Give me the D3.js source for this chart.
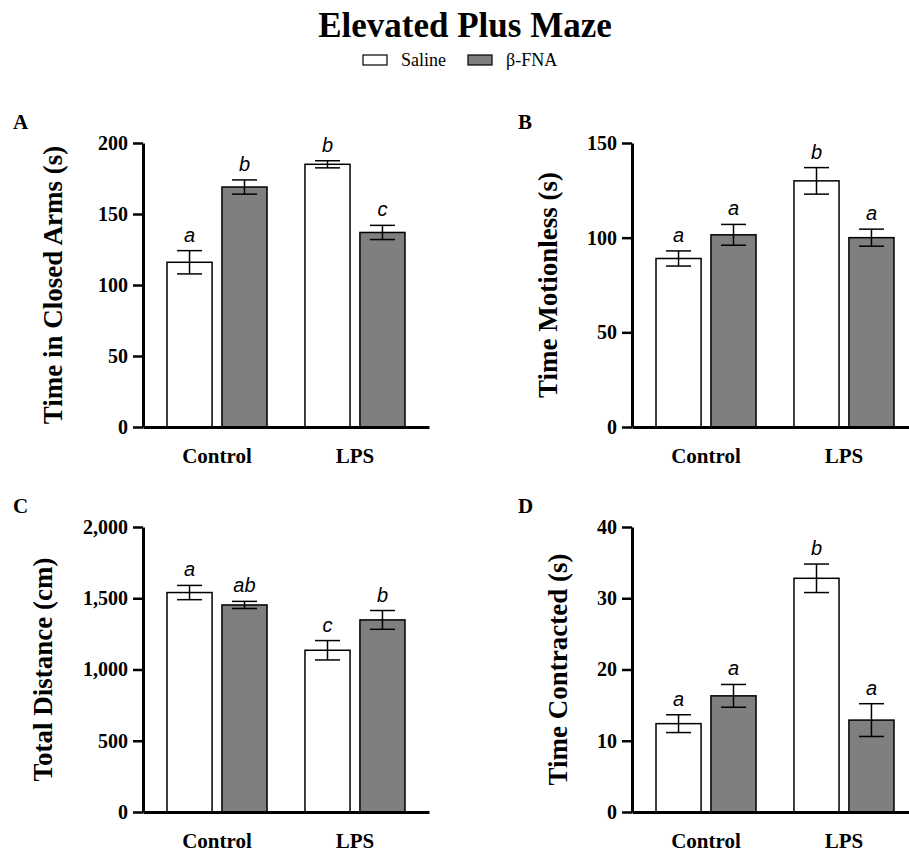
<!DOCTYPE html>
<html>
<head>
<meta charset="utf-8">
<script src="https://cdn.jsdelivr.net/npm/d3@7"></script>
<style>
  body { margin: 0; background: #fff; }
  svg { display: block; }
</style>
</head>
<body>
<script>
// groups on the x axis and the two treatments
const categories = ["Control", "LPS"];
const series = ["Saline", "β-FNA"];

// values, [Control, LPS] each as [Saline, β-FNA]
const closedArmsMean = [[116, 169], [185, 137]];
const closedArmsSem = [[8.2, 5], [2.5, 5]];
const closedArmsLetters = [["a", "b"], ["b", "c"]];

const motionlessMean = [[89, 101.5], [130, 100]];
const motionlessSem = [[4, 5.5], [7, 4.5]];
const motionlessLetters = [["a", "a"], ["b", "a"]];

const distanceMean = [[1540, 1453], [1135, 1348]];
const distanceSem = [[50, 25], [68, 66]];
const distanceLetters = [["a", "ab"], ["c", "b"]];

const contractedMean = [[12.4, 16.3], [32.8, 12.9]];
const contractedSem = [[1.25, 1.6], [2, 2.3]];
const contractedLetters = [["a", "a"], ["b", "a"]];

const panelIds = ["A", "B", "C", "D"];
const yLabels = ["Time in Closed Arms (s)", "Time Motionless (s)", "Total Distance (cm)", "Time Contracted (s)"];
const yTicks = [[0, 50, 100, 150, 200], [0, 50, 100, 150], [0, 500, 1000, 1500, 2000], [0, 10, 20, 30, 40]];

const panels = [
  { mean: closedArmsMean, sem: closedArmsSem, letters: closedArmsLetters },
  { mean: motionlessMean, sem: motionlessSem, letters: motionlessLetters },
  { mean: distanceMean, sem: distanceSem, letters: distanceLetters },
  { mean: contractedMean, sem: contractedSem, letters: contractedLetters },
];

const serif = "'Liberation Serif', 'Times New Roman', serif";
const sans = "'Liberation Sans', Arial, sans-serif";
const fills = ["#ffffff", "#7f7f7f"];

const svg = d3.select("body").append("svg")
  .attr("width", 909)
  .attr("height", 854);

// title + legend
svg.append("text")
  .attr("x", 465).attr("y", 37)
  .attr("text-anchor", "middle")
  .style("font-family", serif).style("font-weight", "bold").style("font-size", "35px")
  .text("Elevated Plus Maze");

const legendX = [363, 468];
series.forEach((s, i) => {
  svg.append("rect")
    .attr("x", legendX[i]).attr("y", 55)
    .attr("width", 24).attr("height", 10)
    .attr("fill", fills[i]).attr("stroke", "#000").attr("stroke-width", 1.2);
  svg.append("text")
    .attr("x", legendX[i] + 38).attr("y", 66)
    .style("font-family", serif).style("font-size", "18px")
    .text(s);
});

// label x positions (baseline of the rotated y title) per panel
const yTitleX = [62, 557, 52, 567];

panels.forEach((p, i) => {
  const col = i % 2, row = Math.floor(i / 2);
  const ax = col ? 632 : 143;
  const top = row ? 527 : 143;
  const bottom = row ? 812 : 427;
  const ticks = yTicks[i];

  const g = svg.append("g");

  const y = d3.scaleLinear().domain([0, d3.max(ticks)]).range([bottom, top]);
  const x0 = d3.scaleBand().domain(categories).range([ax, ax + 286])
    .paddingInner(0.275).paddingOuter(0.174);
  const x1 = d3.scaleBand().domain(series).range([0, x0.bandwidth()]).paddingInner(0.18);

  // panel letter
  g.append("text")
    .attr("x", col ? 518 : 13).attr("y", row ? 513 : 129)
    .style("font-family", serif).style("font-weight", "bold").style("font-size", "21px")
    .text(panelIds[i]);

  // y title
  g.append("text")
    .attr("transform", `translate(${yTitleX[i]},${(top + bottom) / 2}) rotate(-90)`)
    .attr("text-anchor", "middle")
    .style("font-family", serif).style("font-weight", "bold").style("font-size", "27px")
    .text(yLabels[i]);

  // bars
  const rows = [];
  categories.forEach((c, ci) => series.forEach((s, si) => {
    rows.push({ c, s, si, m: p.mean[ci][si], e: p.sem[ci][si], l: p.letters[ci][si] });
  }));

  const bar = g.selectAll("g.bar").data(rows).enter().append("g")
    .attr("class", "bar")
    .attr("transform", d => `translate(${x0(d.c) + x1(d.s)},0)`);

  bar.append("rect")
    .attr("x", 0)
    .attr("y", d => y(d.m))
    .attr("width", x1.bandwidth())
    .attr("height", d => y(0) - y(d.m))
    .attr("fill", d => fills[d.si])
    .attr("stroke", "#000")
    .attr("stroke-width", 1.5);

  const cx = x1.bandwidth() / 2;
  bar.append("line")
    .attr("x1", cx).attr("x2", cx)
    .attr("y1", d => y(d.m - d.e)).attr("y2", d => y(d.m + d.e))
    .attr("stroke", "#000").attr("stroke-width", 1.5);
  [-1, 1].forEach(k => {
    bar.append("line")
      .attr("x1", cx - 12.5).attr("x2", cx + 12.5)
      .attr("y1", d => y(d.m + k * d.e)).attr("y2", d => y(d.m + k * d.e))
      .attr("stroke", "#000").attr("stroke-width", 1.5);
  });

  bar.append("text")
    .attr("x", cx)
    .attr("y", d => y(d.m + d.e) - 9)
    .attr("text-anchor", "middle")
    .style("font-family", sans).style("font-style", "italic").style("font-size", "20px")
    .text(d => d.l);

  // axes
  const xAxis = g.append("g")
    .attr("transform", `translate(0,${bottom})`)
    .call(d3.axisBottom(x0).tickSize(0).tickSizeOuter(0).tickPadding(21));
  xAxis.select(".domain").attr("stroke-width", 3);
  xAxis.selectAll("text")
    .style("font-family", serif).style("font-weight", "bold").style("font-size", "21px");

  const fmt = d3.max(ticks) >= 1000 ? d3.format(",") : d3.format("d");
  const yAxis = g.append("g")
    .attr("transform", `translate(${ax},0)`)
    .call(d3.axisLeft(y).tickValues(ticks).tickSize(10).tickSizeOuter(0).tickPadding(5).tickFormat(fmt));
  yAxis.select(".domain").attr("stroke-width", 3);
  yAxis.selectAll(".tick line").attr("stroke-width", 2.5);
  yAxis.selectAll("text")
    .style("font-family", serif).style("font-weight", "bold").style("font-size", "20px");
});
</script>
</body>
</html>
